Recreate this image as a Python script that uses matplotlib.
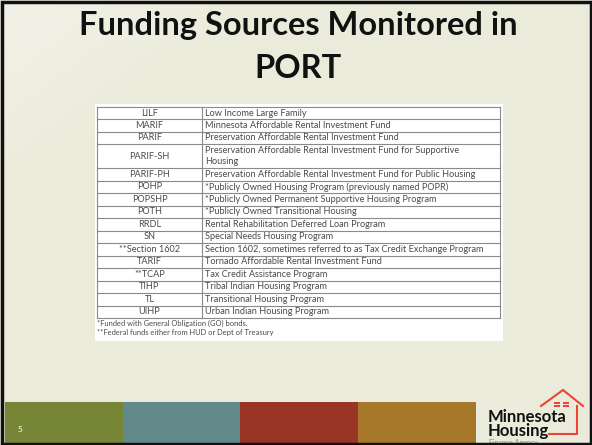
import matplotlib.pyplot as plt
import numpy as np
from matplotlib.patches import Rectangle

# table content
codes = ["LILF", "MARIF", "PARIF", "PARIF-SH", "PARIF-PH", "POHP", "POPSHP", "POTH",
         "RRDL", "SN", "**Section 1602", "TARIF", "**TCAP", "TIHP", "TL", "UIHP"]
descriptions = [
    "Low Income Large Family",
    "Minnesota Affordable Rental Investment Fund",
    "Preservation Affordable Rental Investment Fund",
    "Preservation Affordable Rental Investment Fund for Supportive\nHousing",
    "Preservation Affordable Rental Investment Fund for Public Housing",
    "*Publicly Owned Housing Program (previously named POPR)",
    "*Publicly Owned Permanent Supportive Housing Program",
    "*Publicly Owned Transitional Housing",
    "Rental Rehabilitation Deferred Loan Program",
    "Special Needs Housing Program",
    "Section 1602, sometimes referred to as Tax Credit Exchange Program",
    "Tornado Affordable Rental Investment Fund",
    "Tax Credit Assistance Program",
    "Tribal Indian Housing Program",
    "Transitional Housing Program",
    "Urban Indian Housing Program",
]
footnotes = ["*Funded with General Obligation (GO) bonds.",
             "**Federal funds either from HUD or Dept of Treasury"]
title_lines = ["Funding Sources Monitored in", "PORT"]
bar_colors = ["#768536", "#628a8a", "#993524", "#a8782a"]

W, H = 592, 445
fig = plt.figure(figsize=(W / 100, H / 100), dpi=100)
ax = fig.add_axes([0, 0, 1, 1])
ax.set_xlim(0, W)
ax.set_ylim(H, 0)
ax.axis("off")

# soft background, a little lighter at the top left
gx, gy = np.meshgrid(np.linspace(0, 1, 60), np.linspace(0, 1, 45))
t = np.clip(1 - (gx * 2.2 + gy * 2.2), 0, 1)[..., None]
light = np.array([0.945, 0.945, 0.905])
base = np.array([0.925, 0.925, 0.863])
ax.imshow(base + (light - base) * t, extent=(0, W, H, 0), aspect="auto",
          interpolation="bilinear", zorder=0)
ax.add_patch(Rectangle((1.5, 1.5), W - 3, H - 3, facecolor="none", edgecolor="#111111",
                       lw=2.5, zorder=5))

TF = "Lato"
ax.text(298.5, 35, title_lines[0], ha="center", va="baseline", fontsize=23.5,
        fontweight="bold", family=TF, color="#111111")
ax.text(298, 78, title_lines[1], ha="center", va="baseline", fontsize=23.5,
        fontweight="bold", family=TF, color="#111111")

# table
x0, xm, x1 = 97, 202, 500
top, unit = 106.75, 12.5
ax.add_patch(Rectangle((95, 104), 408, 237, facecolor="white", edgecolor="none"))
y = top
grid = "#8a8a8a"
for code, desc in zip(codes, descriptions):
    n = desc.count("\n") + 1
    h = unit * (1 if n == 1 else 1.9)
    ax.plot([x0, x1], [y, y], color=grid, lw=0.8)
    ax.text((x0 + xm) / 2, y + h / 2, code, ha="center", va="center",
            fontsize=6.6, family=TF, color="#4a4a4a")
    ax.text(xm + 3, y + h / 2, desc, ha="left", va="center", fontsize=6.6,
            family=TF, color="#4a4a4a", linespacing=1.3)
    y += h
ax.plot([x0, x1], [y, y], color=grid, lw=0.8)
for xx in (x0, xm, x1):
    ax.plot([xx, xx], [top, y], color=grid, lw=0.8)
for i, fn in enumerate(footnotes):
    ax.text(x0, y + 5 + i * 9, fn, ha="left", va="center", fontsize=5.4,
            family=TF, color="#4a4a4a")

# bottom colour bars
bx, bw = 5, 117.7
for i, c in enumerate(bar_colors):
    ax.add_patch(Rectangle((bx + i * bw, 402), bw, 41, facecolor=c, edgecolor="none"))
ax.text(20, 430, "5", ha="center", va="center", fontsize=6, color="white", family=TF)

# logo
red = "#ee4433"
ax.plot([541, 563, 583], [406, 390, 406], color=red, lw=1.5, solid_joinstyle="miter")
ax.plot([577, 577, 549], [406, 434, 434], color=red, lw=1.5)
for wx in (554, 563):
    for dx in (0, 3.2):
        for dy in (0, 3):
            ax.add_patch(Rectangle((wx + dx, 401.5 + dy), 2.6, 2.4,
                                   facecolor=red, edgecolor="none"))
ax.text(488, 424, "Minnesota\nHousing", ha="left", va="center", fontsize=12,
        fontweight="bold", family=TF, color="#111111", linespacing=0.85)
ax.text(489, 442, "Finance Agency", ha="left", va="center", fontsize=5,
        family=TF, color="#888888")

fig.savefig("out.png", dpi=100)
